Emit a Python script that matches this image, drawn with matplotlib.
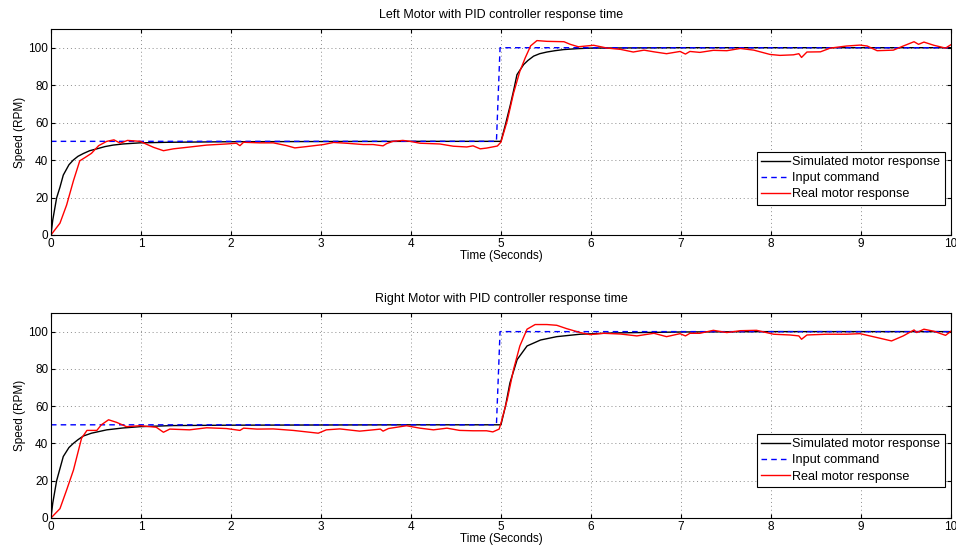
import matplotlib
matplotlib.use("Agg")
import matplotlib.pyplot as plt

plt.rcParams['font.family'] = ['Liberation Sans', 'DejaVu Sans']

# input command (step 50 -> 100 RPM)
cmd_t = [0, 4.95, 4.99, 10]
cmd_v = [50, 50, 100, 100]

# left motor
left_sim_t = [0, 0.02, 0.063, 0.1, 0.137, 0.2, 0.248, 0.3, 0.36, 0.43, 0.51, 0.6, 0.69, 0.8, 0.99, 1.3, 2.0, 3.0, 4.0, 5.0,
              5.05, 5.104, 5.14, 5.178, 5.252, 5.3, 5.363, 5.43, 5.511, 5.6, 5.696, 5.85, 6.0, 6.5, 7.0, 8.0, 9.0, 10.0]
left_sim_v = [0, 8, 19.8, 25.5, 32, 37.5, 40, 42, 43.5, 45, 46, 47.2, 48, 48.6, 49.2, 49.5, 49.8, 49.9, 50, 50,
              59, 69.4, 77, 85.6, 91, 93.2, 95.5, 96.8, 97.7, 98.4, 99, 99.5, 99.8, 99.9, 100, 100, 100, 100]

left_real_t = [0, 0.1, 0.174, 0.25, 0.32, 0.38, 0.45, 0.53, 0.62, 0.7, 0.77, 0.85, 0.99, 1.14, 1.25, 1.36, 1.51, 1.73,
               1.95, 2.06, 2.1, 2.14, 2.32, 2.47, 2.62, 2.71, 2.84, 3.03, 3.14, 3.28, 3.47, 3.58, 3.69, 3.73, 3.8,
               3.91, 3.99, 4.1, 4.32, 4.47, 4.62, 4.69, 4.77, 4.84, 4.96, 5.0, 5.07, 5.14, 5.21, 5.27, 5.33, 5.4,
               5.51, 5.7, 5.77, 5.86, 6.03, 6.18, 6.33, 6.47, 6.59, 6.7, 6.84, 6.99, 7.05, 7.1, 7.21, 7.36, 7.51,
               7.66, 7.81, 7.99, 8.1, 8.25, 8.31, 8.34, 8.4, 8.55, 8.66, 8.84, 8.99, 9.07, 9.18, 9.36, 9.47, 9.59,
               9.64, 9.7, 9.81, 9.94, 10.0]
left_real_v = [0, 6.3, 16, 29, 39.6, 41.4, 43.6, 47.7, 50, 50.8, 49, 50.5, 50, 46.8, 45, 46, 46.8, 48,
               48.6, 49, 47.7, 49.5, 49.2, 49.2, 47.7, 46.5, 47.2, 48.3, 49.4, 49, 48.3, 48.3, 47.6, 48.8, 50,
               50.5, 50, 49, 48.6, 47.4, 47, 47.6, 46, 46.4, 47.5, 49.6, 61, 75.7, 87.4, 94.6, 101, 103.8,
               103.4, 103.2, 101.8, 100.5, 101.3, 99.8, 99.1, 97.7, 98.7, 97.8, 96.8, 98, 96.6, 98, 97.5, 98.6, 98.4,
               99.6, 98.7, 96.4, 95.9, 96.2, 96.8, 94.8, 97.7, 97.8, 99.8, 100.9, 101.4, 100.9, 98.4, 98.7, 100.9, 103.2,
               101.8, 103, 101.3, 99.8, 101.6]

# right motor
right_sim_t = [0, 0.02, 0.063, 0.1, 0.137, 0.2, 0.248, 0.3, 0.36, 0.45, 0.62, 0.8, 0.99, 1.36, 2.0, 3.0, 4.0, 5.0,
               5.05, 5.1, 5.18, 5.29, 5.44, 5.62, 5.88, 6.25, 7.0, 8.0, 9.0, 10.0]
right_sim_v = [0, 8, 20, 26.5, 33, 37.8, 40, 42, 44, 45.5, 47.3, 48.3, 49, 49.6, 49.8, 49.9, 50, 50,
               60, 72.5, 85, 92.3, 95.5, 97.3, 98.6, 99.3, 99.8, 100, 100, 100]

right_real_t = [0, 0.1, 0.174, 0.25, 0.34, 0.4, 0.51, 0.56, 0.64, 0.73, 0.84, 0.99, 1.17, 1.25, 1.32, 1.54, 1.73, 1.95,
                2.1, 2.14, 2.29, 2.47, 2.69, 2.84, 2.97, 3.06, 3.21, 3.43, 3.58, 3.66, 3.69, 3.75, 3.95, 4.1, 4.25,
                4.4, 4.54, 4.69, 4.84, 4.91, 4.98, 5.0, 5.07, 5.14, 5.21, 5.29, 5.38, 5.51, 5.62, 5.73, 5.88, 5.99,
                6.14, 6.33, 6.51, 6.7, 6.84, 6.99, 7.05, 7.1, 7.21, 7.36, 7.51, 7.66, 7.84, 8.03, 8.21, 8.31, 8.34,
                8.4, 8.62, 8.84, 8.99, 9.18, 9.34, 9.47, 9.59, 9.62, 9.7, 9.81, 9.94, 10.0]
right_real_v = [0, 5, 15, 25.7, 42.8, 47, 47, 50, 52.7, 51.3, 49, 49.5, 48.7, 46, 47.7, 47.3, 48.4, 48,
                47, 48.2, 47.7, 47.8, 47, 46.2, 45.5, 47.3, 47.8, 46.6, 47.3, 47.7, 46.6, 48, 49.5, 48.2, 47.3,
                48.2, 47, 46.8, 46.8, 46.2, 47.7, 50.9, 63.5, 79.7, 92.3, 101.3, 103.8, 103.8, 103.4, 101.6, 99.5, 98.4,
                99.1, 98.7, 97.7, 99.1, 97.3, 98.9, 97.7, 99.1, 99.1, 100.7, 99.5, 100.5, 100.7, 98.6, 98.2, 97.7, 95.9,
                98.2, 98.6, 98.6, 98.9, 96.8, 95, 97.7, 100.9, 99.5, 101.3, 100.2, 98, 100.2]

titles = ['Left Motor with PID controller response time',
          'Right Motor with PID controller response time']
series = [(left_sim_t, left_sim_v, left_real_t, left_real_v),
          (right_sim_t, right_sim_v, right_real_t, right_real_v)]
labels = ['Simulated motor response', 'Input command', 'Real motor response']

fig = plt.figure(figsize=(9.56, 5.52), dpi=100)
rects = [[0.0533, 0.5743, 0.9414, 0.3732],
         [0.0533, 0.0616, 0.9414, 0.3714]]
leg_y = [0.146, 0.151]

for rect, ly, title, (st, sv, rt, rv) in zip(rects, leg_y, titles, series):
    ax = fig.add_axes(rect)
    ax.plot(st, sv, color='k', lw=1.0, label=labels[0])
    ax.plot(cmd_t, cmd_v, color='b', lw=1.0, ls=(0, (4, 3)), label=labels[1])
    ax.plot(rt, rv, color='r', lw=1.0, label=labels[2])
    ax.set_xlim(0, 10)
    ax.set_ylim(0, 110)
    ax.set_xticks(range(0, 11))
    ax.set_yticks(range(0, 101, 20))
    ax.grid(True, color='0.55', ls=(0, (1, 3)), lw=0.7)
    ax.tick_params(direction='in', top=True, right=True, labelsize=8.5, length=3, pad=2)
    for s in ax.spines.values():
        s.set_linewidth(0.8)
    ax.set_title(title, fontsize=9, pad=8)
    ax.set_xlabel('Time (Seconds)', fontsize=8.5, labelpad=0)
    ax.set_ylabel('Speed (RPM)', fontsize=8.5, labelpad=2)
    leg = ax.legend(loc='lower right', bbox_to_anchor=(0.993, ly), fontsize=9.1, fancybox=False,
                    framealpha=1, edgecolor='k', borderpad=0.35, labelspacing=0.33,
                    handlelength=2.3, handletextpad=0.15, borderaxespad=0)
    leg.get_frame().set_linewidth(0.8)

fig.savefig('out.png', dpi=100)
